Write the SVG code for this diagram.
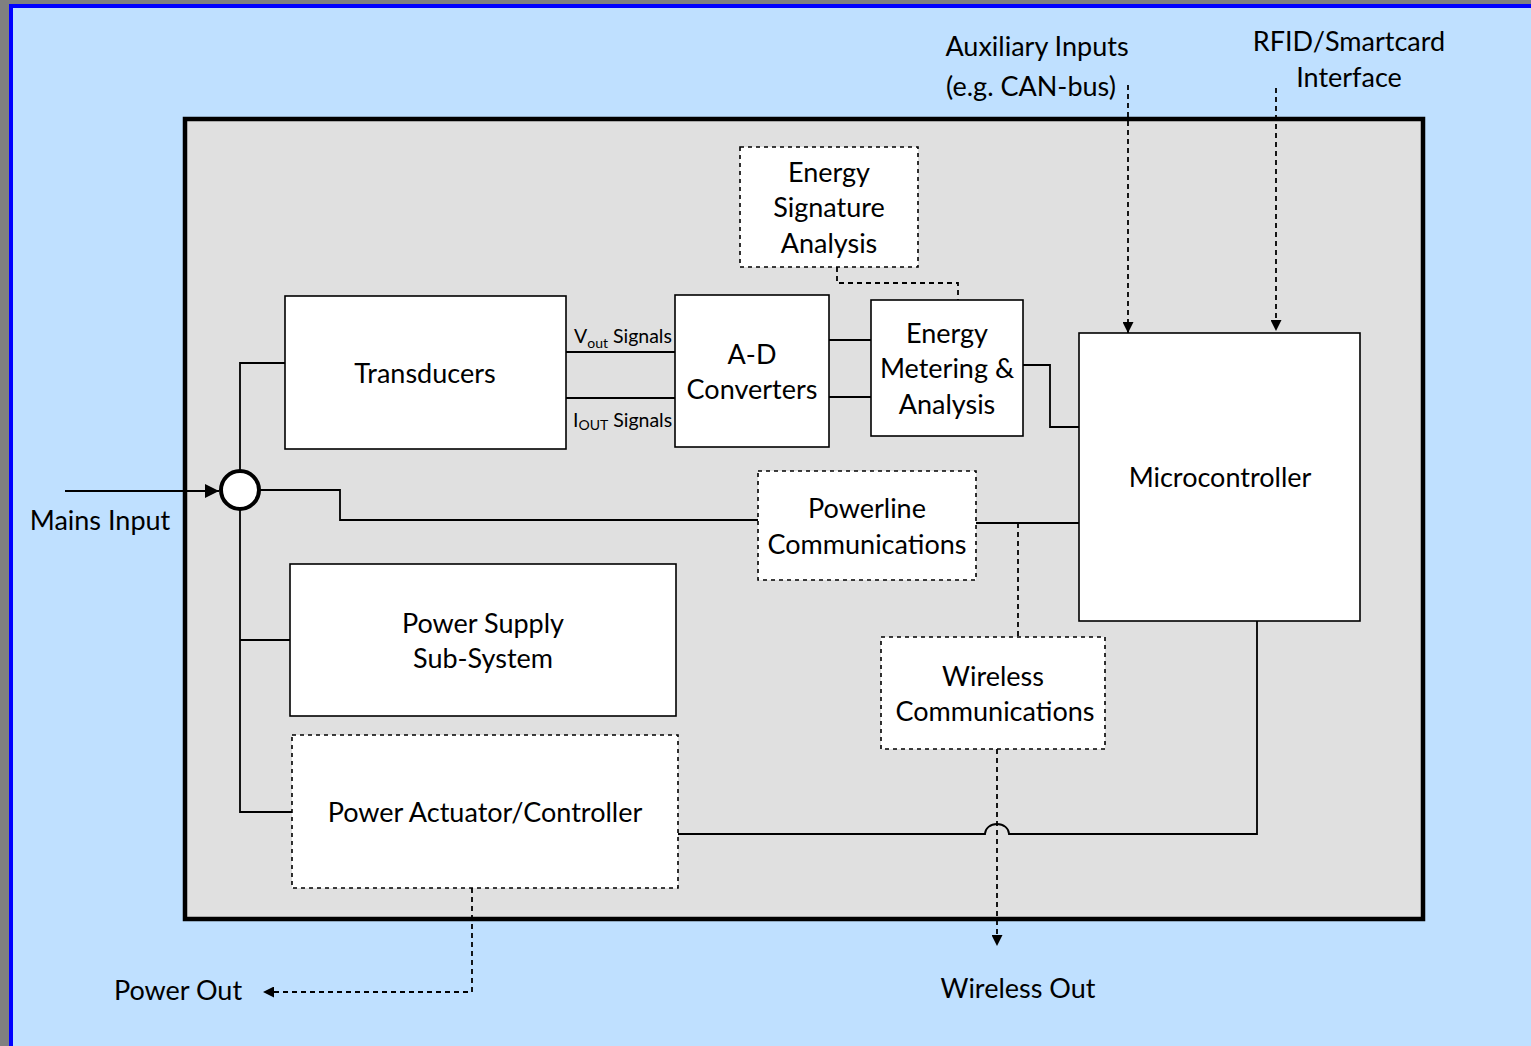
<svg xmlns="http://www.w3.org/2000/svg" width="1531" height="1046" viewBox="0 0 1531 1046">
  <defs>
    <marker id="arrow" viewBox="0 0 10 10" refX="10" refY="5" markerWidth="11" markerHeight="11" markerUnits="userSpaceOnUse" orient="auto">
      <path d="M0,0 L10,5 L0,10 z" fill="#000"/>
    </marker>
    <marker id="arrowBig" viewBox="0 0 12 12" refX="12" refY="6" markerWidth="14" markerHeight="14" markerUnits="userSpaceOnUse" orient="auto">
      <path d="M0,0 L12,6 L0,12 z" fill="#000"/>
    </marker>
  </defs>
  <style>
    text { font-family: "Lato", "Open Sans", "Liberation Sans", sans-serif; font-size: 27px; fill: #000; text-anchor: middle; }
    .box { fill: #fff; stroke: #000; stroke-width: 1.6; }
    .dbox { fill: #fff; stroke: #000; stroke-width: 1.6; stroke-dasharray: 4 4; }
    .wire { fill: none; stroke: #000; stroke-width: 1.8; }
    .dash { fill: none; stroke: #000; stroke-width: 1.8; stroke-dasharray: 5 4; }
    .sig { font-size: 19.5px; text-anchor: start; }
  </style>

  <!-- page background and frame -->
  <rect x="0" y="0" width="1531" height="1046" fill="#808080"/>
  <rect x="11" y="6" width="1540" height="1060" fill="#BFE0FF" stroke="#0000FF" stroke-width="4"/>

  <!-- device enclosure -->
  <rect x="185" y="119" width="1238" height="800" fill="#E0E0E0" stroke="#000" stroke-width="4.5"/>

  <!-- connectors -->
  <g id="connectors">
    <!-- mains input -->
    <line x1="65" y1="491" x2="219" y2="491" class="wire" marker-end="url(#arrowBig)"/>
    <!-- mains bus -->
    <polyline points="285,363 240,363 240,471" class="wire"/>
    <polyline points="240,509 240,812 292,812" class="wire"/>
    <line x1="240" y1="640" x2="290" y2="640" class="wire"/>
    <polyline points="259,490 340,490 340,520 758,520" class="wire"/>
    <!-- transducer signals -->
    <line x1="566" y1="352" x2="675" y2="352" class="wire"/>
    <line x1="566" y1="398" x2="675" y2="398" class="wire"/>
    <!-- A-D to metering -->
    <line x1="829" y1="340" x2="871" y2="340" class="wire"/>
    <line x1="829" y1="397" x2="871" y2="397" class="wire"/>
    <!-- metering to microcontroller -->
    <polyline points="1023,365 1050,365 1050,427 1079,427" class="wire"/>
    <!-- signature analysis to metering -->
    <polyline points="837,267 837,283 958,283 958,300" class="dash"/>
    <!-- powerline to microcontroller -->
    <line x1="976" y1="523" x2="1079" y2="523" class="wire"/>
    <line x1="1018" y1="523" x2="1018" y2="637" class="dash"/>
    <!-- wireless out -->
    <line x1="997" y1="749" x2="997" y2="946" class="dash" marker-end="url(#arrow)"/>
    <!-- microcontroller to actuator, hopping over wireless line -->
    <path d="M1257,621 L1257,834 L1009,834 A12,10 0 0 0 985,834 L678,834" class="wire"/>
    <!-- external inputs -->
    <line x1="1128" y1="85" x2="1128" y2="333" class="dash" marker-end="url(#arrow)"/>
    <line x1="1276" y1="88" x2="1276" y2="331" class="dash" marker-end="url(#arrow)"/>
    <!-- power out -->
    <polyline points="472,888 472,992 263,992" class="dash" marker-end="url(#arrow)"/>
  </g>

  <!-- nodes -->
  <g id="junction">
    <circle cx="240" cy="490" r="19" fill="#fff" stroke="#000" stroke-width="4"/>
  </g>

  <g id="energy-signature">
    <rect x="740" y="147" width="178" height="120" class="dbox"/>
    <text x="829" y="182">Energy</text>
    <text x="829" y="217">Signature</text>
    <text x="829" y="253">Analysis</text>
  </g>

  <g id="transducers">
    <rect x="285" y="296" width="281" height="153" class="box"/>
    <text x="425" y="383">Transducers</text>
  </g>

  <g id="ad-converters">
    <rect x="675" y="295" width="154" height="152" class="box"/>
    <text x="752" y="364">A-D</text>
    <text x="752" y="399">Converters</text>
  </g>

  <g id="energy-metering">
    <rect x="871" y="300" width="152" height="136" class="box"/>
    <text x="947" y="343">Energy</text>
    <text x="947" y="378">Metering &amp;</text>
    <text x="947" y="414">Analysis</text>
  </g>

  <g id="microcontroller">
    <rect x="1079" y="333" width="281" height="288" class="box"/>
    <text x="1220" y="487">Microcontroller</text>
  </g>

  <g id="powerline">
    <rect x="758" y="471" width="218" height="109" class="dbox"/>
    <text x="867" y="518">Powerline</text>
    <text x="867" y="554">Communications</text>
  </g>

  <g id="wireless">
    <rect x="881" y="637" width="224" height="112" class="dbox"/>
    <text x="993" y="686">Wireless</text>
    <text x="995" y="721">Communications</text>
  </g>

  <g id="power-supply">
    <rect x="290" y="564" width="386" height="152" class="box"/>
    <text x="483" y="633">Power Supply</text>
    <text x="483" y="668">Sub-System</text>
  </g>

  <g id="power-actuator">
    <rect x="292" y="735" width="386" height="153" class="dbox"/>
    <text x="485" y="822">Power Actuator/Controller</text>
  </g>

  <!-- signal labels -->
  <g id="signal-labels">
    <text x="574" y="343" class="sig">V<tspan font-size="14" dy="5">out</tspan><tspan dy="-5"> Signals</tspan></text>
    <text x="573" y="427" class="sig">I<tspan font-size="14" dy="3">OUT</tspan><tspan dy="-3"> Signals</tspan></text>
  </g>

  <!-- external labels -->
  <g id="external-labels">
    <text x="1037" y="56">Auxiliary Inputs</text>
    <text x="1031" y="96">(e.g. CAN-bus)</text>
    <text x="1349" y="51">RFID/Smartcard</text>
    <text x="1349" y="87">Interface</text>
    <text x="100" y="530">Mains Input</text>
    <text x="178" y="1000">Power Out</text>
    <text x="1018" y="998">Wireless Out</text>
  </g>
</svg>
